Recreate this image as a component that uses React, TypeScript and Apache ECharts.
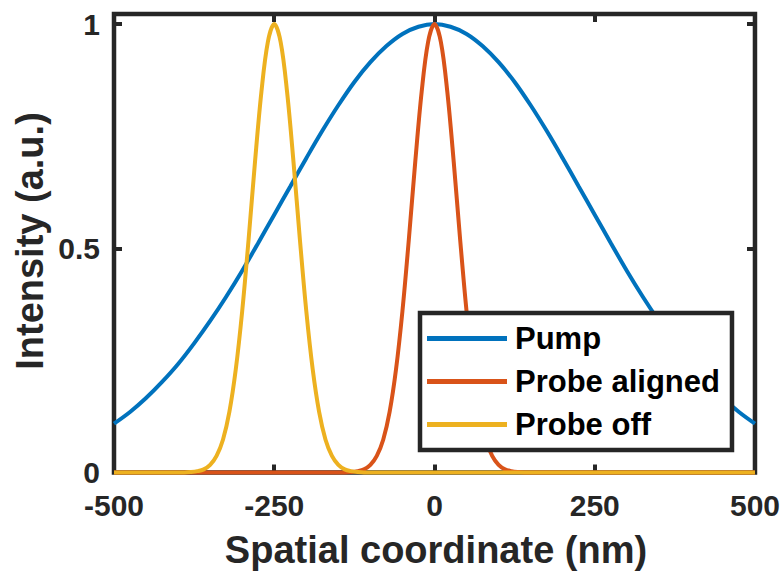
import React, { useEffect, useRef } from "react";
import * as echarts from "echarts";

const xTicks = [-500, -250, 0, 250, 500];
const yTicks = [0, 0.5, 1];

const pumpX = [
  -500, -475, -450, -425, -400, -375, -350, -325, -300, -275, -250, -225, -200, -175, -150, -125, -100, -75, -50, -25,
  0, 25, 50, 75, 100, 125, 150, 175, 200, 225, 250, 275, 300, 325, 350, 375, 400, 425, 450, 475, 500,
];
const pumpY = [
  0.109, 0.135, 0.166, 0.202, 0.242, 0.288, 0.338, 0.392, 0.45, 0.512, 0.575, 0.638, 0.701, 0.762, 0.819, 0.871, 0.915, 0.951, 0.978, 0.994,
  1.0, 0.994, 0.978, 0.951, 0.915, 0.871, 0.819, 0.762, 0.701, 0.638, 0.575, 0.512, 0.45, 0.392, 0.338, 0.288, 0.242, 0.202, 0.166, 0.135, 0.109,
];

const alignedX = [
  -500, -140, -130, -120, -110, -100, -90, -80, -70, -60, -50, -40, -30, -20, -10,
  0, 10, 20, 30, 40, 50, 60, 70, 80, 90, 100, 110, 120, 130, 140, 500,
];
const alignedY = [
  0, 0, 0.001, 0.003, 0.007, 0.017, 0.037, 0.073, 0.135, 0.23, 0.36, 0.52, 0.693, 0.849, 0.96,
  1.0, 0.96, 0.849, 0.693, 0.52, 0.36, 0.23, 0.135, 0.073, 0.037, 0.017, 0.007, 0.003, 0.001, 0, 0,
];

const offX = [
  -500, -390, -380, -370, -360, -350, -340, -330, -320, -310, -300, -290, -280, -270, -260,
  -250, -240, -230, -220, -210, -200, -190, -180, -170, -160, -150, -140, -130, -120, -110, 500,
];
const offY = [
  0, 0, 0.001, 0.003, 0.007, 0.017, 0.037, 0.073, 0.135, 0.23, 0.36, 0.52, 0.693, 0.849, 0.96,
  1.0, 0.96, 0.849, 0.693, 0.52, 0.36, 0.23, 0.135, 0.073, 0.037, 0.017, 0.007, 0.003, 0.001, 0, 0,
];

const seriesNames = ["Pump", "Probe aligned", "Probe off"];
const seriesColors = ["#0072BD", "#D95319", "#EDB120"];

const FONT = "'Liberation Sans', Arial, Helvetica, sans-serif";
const AX = "#262626";

const zip = (xs: number[], ys: number[]) => xs.map((x, i) => [x, ys[i]]);

export default function App() {
  const ref = useRef<HTMLDivElement>(null);
  useEffect(() => {
    document.body.style.margin = "0";
    const chart = echarts.init(ref.current!, null, { renderer: "svg" });
    const tickStyle = { show: true, inside: true, length: 8, lineStyle: { color: AX, width: 4 } };
    const labelStyle = { fontSize: 30, fontWeight: "bold", fontFamily: FONT, color: AX };
    const hiddenLine = { show: false, onZero: false };
    const datasets = [zip(pumpX, pumpY), zip(alignedX, alignedY), zip(offX, offY)];
    chart.setOption({
      animation: false,
      backgroundColor: "#fff",
      grid: {
        left: 114,
        right: 27,
        top: 14,
        bottom: 99.5,
        show: true,
        borderColor: AX,
        borderWidth: 4.5,
        backgroundColor: "transparent",
      },
      xAxis: [
        {
          type: "value",
          min: -500,
          max: 500,
          interval: 250,
          axisLine: hiddenLine,
          axisTick: { ...tickStyle, customValues: xTicks.slice(1, -1) },
          splitLine: { show: false },
          axisLabel: { ...labelStyle, margin: 18, customValues: xTicks },
        },
        {
          type: "value",
          position: "top",
          min: -500,
          max: 500,
          interval: 250,
          axisLine: hiddenLine,
          axisTick: { ...tickStyle, customValues: xTicks.slice(1, -1) },
          splitLine: { show: false },
          axisLabel: { show: false },
        },
      ],
      yAxis: [
        {
          type: "value",
          position: "left",
          min: 0,
          max: 1.0225,
          axisLine: hiddenLine,
          axisTick: { ...tickStyle, customValues: yTicks.slice(1) },
          splitLine: { show: false },
          axisLabel: { ...labelStyle, margin: 14, customValues: yTicks },
        },
        {
          type: "value",
          position: "right",
          min: 0,
          max: 1.0225,
          axisLine: hiddenLine,
          axisTick: { ...tickStyle, customValues: yTicks.slice(1) },
          splitLine: { show: false },
          axisLabel: { show: false },
        },
      ],
      legend: {
        orient: "vertical",
        left: 420,
        top: 313,
        padding: [10, 12, 10, 7],
        itemGap: 12,
        itemWidth: 80,
        itemHeight: 5,
        icon: "rect",
        borderColor: AX,
        borderWidth: 4.5,
        borderRadius: 0,
        backgroundColor: "#fff",
        textStyle: { fontSize: 31, fontWeight: "bold", fontFamily: FONT, color: "#000", padding: [0, 0, 0, 3] },
        data: seriesNames,
      },
      graphic: [
        {
          type: "text",
          x: 436,
          y: 550,
          style: {
            text: "Spatial coordinate (nm)",
            fontSize: 38,
            fontWeight: "bold",
            fontFamily: FONT,
            fill: AX,
            align: "center",
            verticalAlign: "middle",
          },
        },
        {
          type: "text",
          x: 30,
          y: 241,
          rotation: Math.PI / 2,
          style: {
            text: "Intensity (a.u.)",
            fontSize: 38,
            fontWeight: "bold",
            fontFamily: FONT,
            fill: AX,
            align: "center",
            verticalAlign: "middle",
          },
        },
      ],
      series: seriesNames.map((name, i) => ({
        name,
        type: "line",
        data: datasets[i],
        showSymbol: false,
        smooth: 0.35,
        clip: false,
        color: seriesColors[i],
        lineStyle: { width: 4, color: seriesColors[i] },
      })),
    });
    return () => chart.dispose();
  }, []);
  return <div ref={ref} style={{ width: 783, height: 572 }} />;
}
